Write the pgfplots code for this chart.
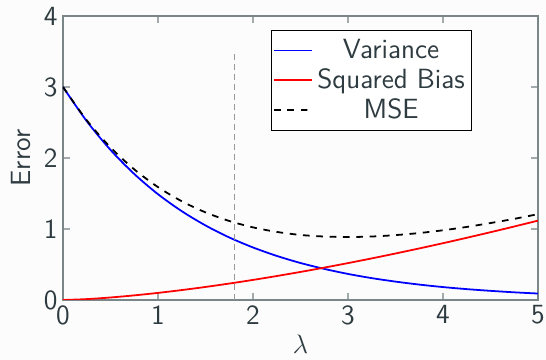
\documentclass[border=0pt]{standalone}
\usepackage{pgfplots}
\pgfplotsset{compat=1.18}
\definecolor{txt}{HTML}{2E3B40}
\definecolor{axc}{HTML}{7A8688}
\definecolor{bgc}{HTML}{FCFCFC}
\begin{document}
\begin{tikzpicture}[x=1pt,y=1pt]
\path[use as bounding box, fill=bgc] (-28.35,-27) rectangle (217.35,135);
\begin{axis}[
  at={(0,0)}, anchor=south west,
  scale only axis, width=213.75pt, height=127.8pt,
  xmin=0, xmax=5, ymin=0, ymax=4,
  xtick={0,1,2,3,4,5}, ytick={0,1,2,3,4},
  font=\sffamily\fontsize{12.5}{14}\selectfont,
  /pgf/number format/assume math mode=true,
  tick label style={font=\sffamily\fontsize{12.5}{14}\selectfont, text=txt},
  label style={text=txt, font=\sffamily\fontsize{12.5}{14}\selectfont},
  axis line style={axc, line width=0.8pt},
  tick style={axc!70, line width=0.6pt},
  major tick length=3pt,
  tick align=inside,
  xticklabel style={yshift=1pt},
  yticklabel style={xshift=1pt},
  xlabel={$\lambda$}, ylabel={Error},
  xlabel style={yshift=2.2pt},
  ylabel style={yshift=-1pt},
  legend style={at={(0.861,0.951)}, anchor=north east, draw=black, fill=white, text=txt, font=\sffamily\fontsize{12.5}{14}\selectfont, inner xsep=1pt, inner ysep=2pt, row sep=-1pt},
  legend cell align=center,
]
\addplot[blue, line width=0.8pt, smooth] coordinates {
(0,3.000) (0.25,2.519) (0.5,2.114) (0.75,1.775) (1,1.490) (1.25,1.251) (1.5,1.050) (1.75,0.881) (2,0.740) (2.25,0.621) (2.5,0.521) (2.75,0.438) (3,0.367) (3.25,0.308) (3.5,0.259) (3.75,0.217) (4,0.182) (4.25,0.153) (4.5,0.129) (4.75,0.108) (5,0.091)};
\addlegendentry{Variance}
\addplot[red, line width=0.8pt, smooth] coordinates {
(0,0) (0.25,0.0125) (0.5,0.0354) (0.75,0.0650) (1,0.1) (1.25,0.1398) (1.5,0.1837) (1.75,0.2315) (2,0.2828) (2.25,0.3375) (2.5,0.3953) (2.75,0.4560) (3,0.5196) (3.25,0.5859) (3.5,0.6548) (3.75,0.7262) (4,0.8) (4.25,0.8762) (4.5,0.9546) (4.75,1.0352) (5,1.1180)};
\addlegendentry{Squared Bias}
\addplot[black, dashed, line width=0.8pt, smooth] coordinates {
(0,3.000) (0.25,2.531) (0.5,2.149) (0.75,1.840) (1,1.590) (1.25,1.391) (1.5,1.234) (1.75,1.113) (2,1.023) (2.25,0.959) (2.5,0.916) (2.75,0.894) (3,0.887) (3.25,0.894) (3.5,0.914) (3.75,0.943) (4,0.982) (4.25,1.029) (4.5,1.084) (4.75,1.143) (5,1.209)};
\addlegendentry{MSE}
\addplot[gray!80, dash pattern=on 2.5pt off 2pt, line width=0.4pt, forget plot] coordinates {(1.8,0) (1.8,3.52)};
\end{axis}
\end{tikzpicture}
\end{document}
